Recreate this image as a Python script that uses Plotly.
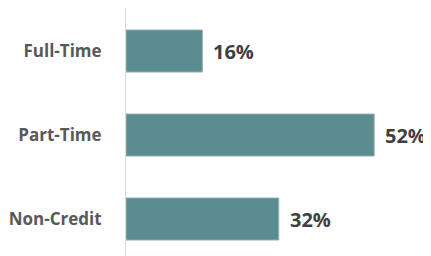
import plotly.graph_objects as go

categories = ["Full-Time", "Part-Time", "Non-Credit"]
values = [16, 52, 32]
labels = ["16%", "52%", "32%"]

fig = go.Figure(go.Bar(
    x=values, y=categories, orientation="h",
    marker=dict(color="#5b8c90", line=dict(color="#8fb3b6", width=1)),
    width=0.5, cliponaxis=False,
))
for v, c, t in zip(values, categories, labels):
    fig.add_annotation(
        x=v, y=c, text=t, showarrow=False, xanchor="left", xshift=9,
        font=dict(family="Open Sans", size=20, color="#404040", weight="bold"),
    )
fig.update_layout(
    width=423, height=248,
    margin=dict(l=118, r=0, t=0, b=0),
    plot_bgcolor="white", paper_bgcolor="white",
    showlegend=False,
    xaxis=dict(range=[0, 63.9], visible=False, automargin=False),
    yaxis=dict(
        categoryorder="array", categoryarray=categories,
        range=[2.44, -0.512], automargin=False,
        showline=True, linecolor="#d9d9d9", linewidth=1,
        ticks="", ticklabelstandoff=20,
        tickfont=dict(family="Open Sans", size=17, color="#595959", weight="bold"),
        showgrid=False, zeroline=False,
    ),
)
fig.write_html("out.html")
